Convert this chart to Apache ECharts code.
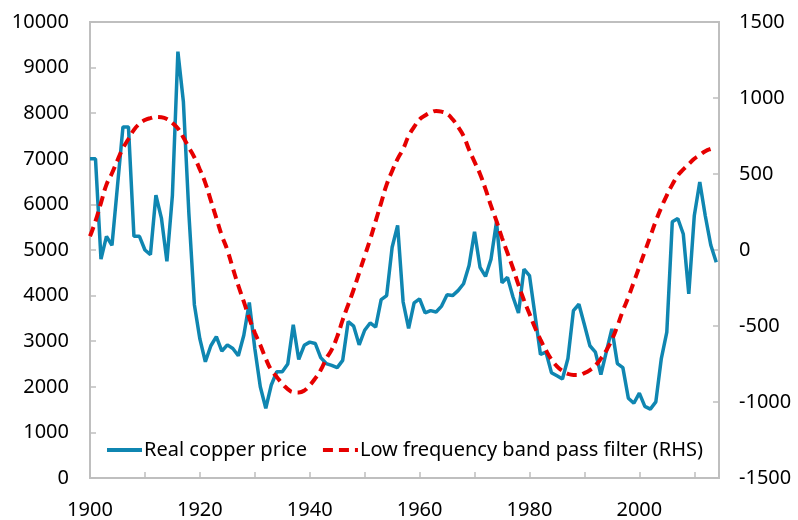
<!DOCTYPE html>
<html>
<head>
<meta charset="utf-8">
<script src="https://cdn.jsdelivr.net/npm/echarts@6/dist/echarts.min.js"></script>
<style>
  html, body { margin: 0; padding: 0; background: #fff; }
  #chart { width: 798px; height: 520px; }
</style>
</head>
<body>
<div id="chart"></div>
<script>
  // years 1900 - 2014
  var startYear = 1900
  var copperPrice = [
    7000, 7000, 4800, 5300, 5100, 6400, 7700, 7700, 5300, 5300,
    5000, 4900, 6200, 5700, 4750, 6200, 9350, 8250, 5800, 3800,
    3050, 2550, 2900, 3100, 2780, 2920, 2840, 2680, 3130, 3850,
    2840, 2000, 1530, 2040, 2330, 2330, 2500, 3360, 2600, 2910,
    2980, 2950, 2640, 2510, 2470, 2420, 2580, 3430, 3330, 2920,
    3240, 3400, 3310, 3910, 4000, 5060, 5540, 3860, 3280, 3840,
    3930, 3620, 3670, 3640, 3770, 4020, 4000, 4110, 4260, 4660,
    5400, 4620, 4420, 4800, 5620, 4280, 4400, 3970, 3620, 4580,
    4440, 3580, 2710, 2760, 2310, 2240, 2170, 2620, 3670, 3810,
    3360, 2900, 2760, 2270, 2770, 3270, 2510, 2420, 1750, 1640,
    1860, 1570, 1510, 1670, 2620, 3200, 5620, 5690, 5350, 4040,
    5750, 6490, 5750, 5110, 4730
  ]
  var bandPass = [
    90, 190, 310, 430, 505, 590, 670, 730, 790, 830,
    855, 868, 875, 873, 862, 835, 800, 740, 675, 610,
    530, 440, 325, 210, 95, 0, -120, -235, -340, -450,
    -545, -625, -715, -790, -835, -880, -915, -935, -937, -925,
    -890, -845, -790, -715, -655, -570, -460, -360, -260, -150,
    -40, 70, 190, 310, 430, 520, 600, 665, 750, 810,
    860, 885, 905, 915, 910, 895, 860, 810, 750, 660,
    580, 500, 400, 290, 190, 80, -20, -120, -230, -330,
    -420, -510, -590, -660, -720, -765, -795, -815, -822, -822,
    -810, -790, -760, -715, -660, -590, -500, -400, -310, -210,
    -110, -10, 90, 190, 280, 360, 430, 490, 530, 565,
    600, 625, 650, 665, 675
  ]
  var seriesNames = ['Real copper price', 'Low frequency band pass filter (RHS)']

  var copperData = copperPrice.map((v, i) => [startYear + i, v])
  var filterData = bandPass.map((v, i) => [startYear + i, v])

  var axisColor = '#bfbfbf'
  var fontFamily = 'Noto Sans'
  var fontSize = 20

  var labelStyle = {
    margin: 22,
    color: '#000',
    fontSize: fontSize,
    fontFamily: fontFamily,
    formatter: v => String(v)
  }

  var chart = echarts.init(document.getElementById('chart'), null, { renderer: 'canvas' })
  var option = {
    animation: false,
    backgroundColor: '#fff',
    textStyle: { color: '#000', fontSize: fontSize, fontFamily: fontFamily },
    grid: {
      left: 90,
      right: 79,
      top: 22,
      bottom: 40,
      show: true,
      borderColor: axisColor,
      borderWidth: 2
    },
    legend: {
      left: 100,
      top: 435,
      itemWidth: 35,
      itemHeight: 14,
      itemGap: 14,
      textStyle: { color: '#000', fontSize: fontSize, fontFamily: fontFamily, padding: [0, 0, 0, -3] },
      itemStyle: { opacity: 0 },
      lineStyle: { width: 4 },
      data: seriesNames
    },
    xAxis: {
      type: 'value',
      min: 1900,
      max: 2014.5,
      interval: 10,
      splitLine: { show: false },
      axisLine: { lineStyle: { color: axisColor, width: 2 } },
      axisTick: { inside: true, length: 6, lineStyle: { color: axisColor, width: 1.5 } },
      axisLabel: Object.assign({}, labelStyle, {
        margin: 22,
        formatter: v => (v % 20 === 0 ? String(v) : '')
      })
    },
    yAxis: [
      {
        type: 'value',
        min: 0,
        max: 10000,
        interval: 1000,
        splitLine: { show: false },
        axisLine: { show: true, lineStyle: { color: axisColor, width: 2 } },
        axisTick: { show: true, inside: true, length: 6, lineStyle: { color: axisColor, width: 1.5 } },
        axisLabel: Object.assign({}, labelStyle, { margin: 21 })
      },
      {
        type: 'value',
        min: -1500,
        max: 1500,
        interval: 500,
        splitLine: { show: false },
        axisLine: { show: true, lineStyle: { color: axisColor, width: 2 } },
        axisTick: { show: true, inside: true, length: 6, lineStyle: { color: axisColor, width: 1.5 } },
        axisLabel: Object.assign({}, labelStyle, { margin: 20 })
      }
    ],
    series: [
      {
        name: seriesNames[0],
        type: 'line',
        yAxisIndex: 0,
        data: copperData,
        symbol: 'none',
        z: 2,
        lineStyle: { color: '#0f86b1', width: 3.5 },
        itemStyle: { color: '#0f86b1' }
      },
      {
        name: seriesNames[1],
        type: 'line',
        yAxisIndex: 1,
        data: filterData,
        symbol: 'none',
        smooth: true,
        z: 3,
        lineStyle: { color: '#e60000', width: 4, type: [10, 6] },
        itemStyle: { color: '#e60000' }
      }
    ]
  }
  chart.setOption(option)
</script>
</body>
</html>
